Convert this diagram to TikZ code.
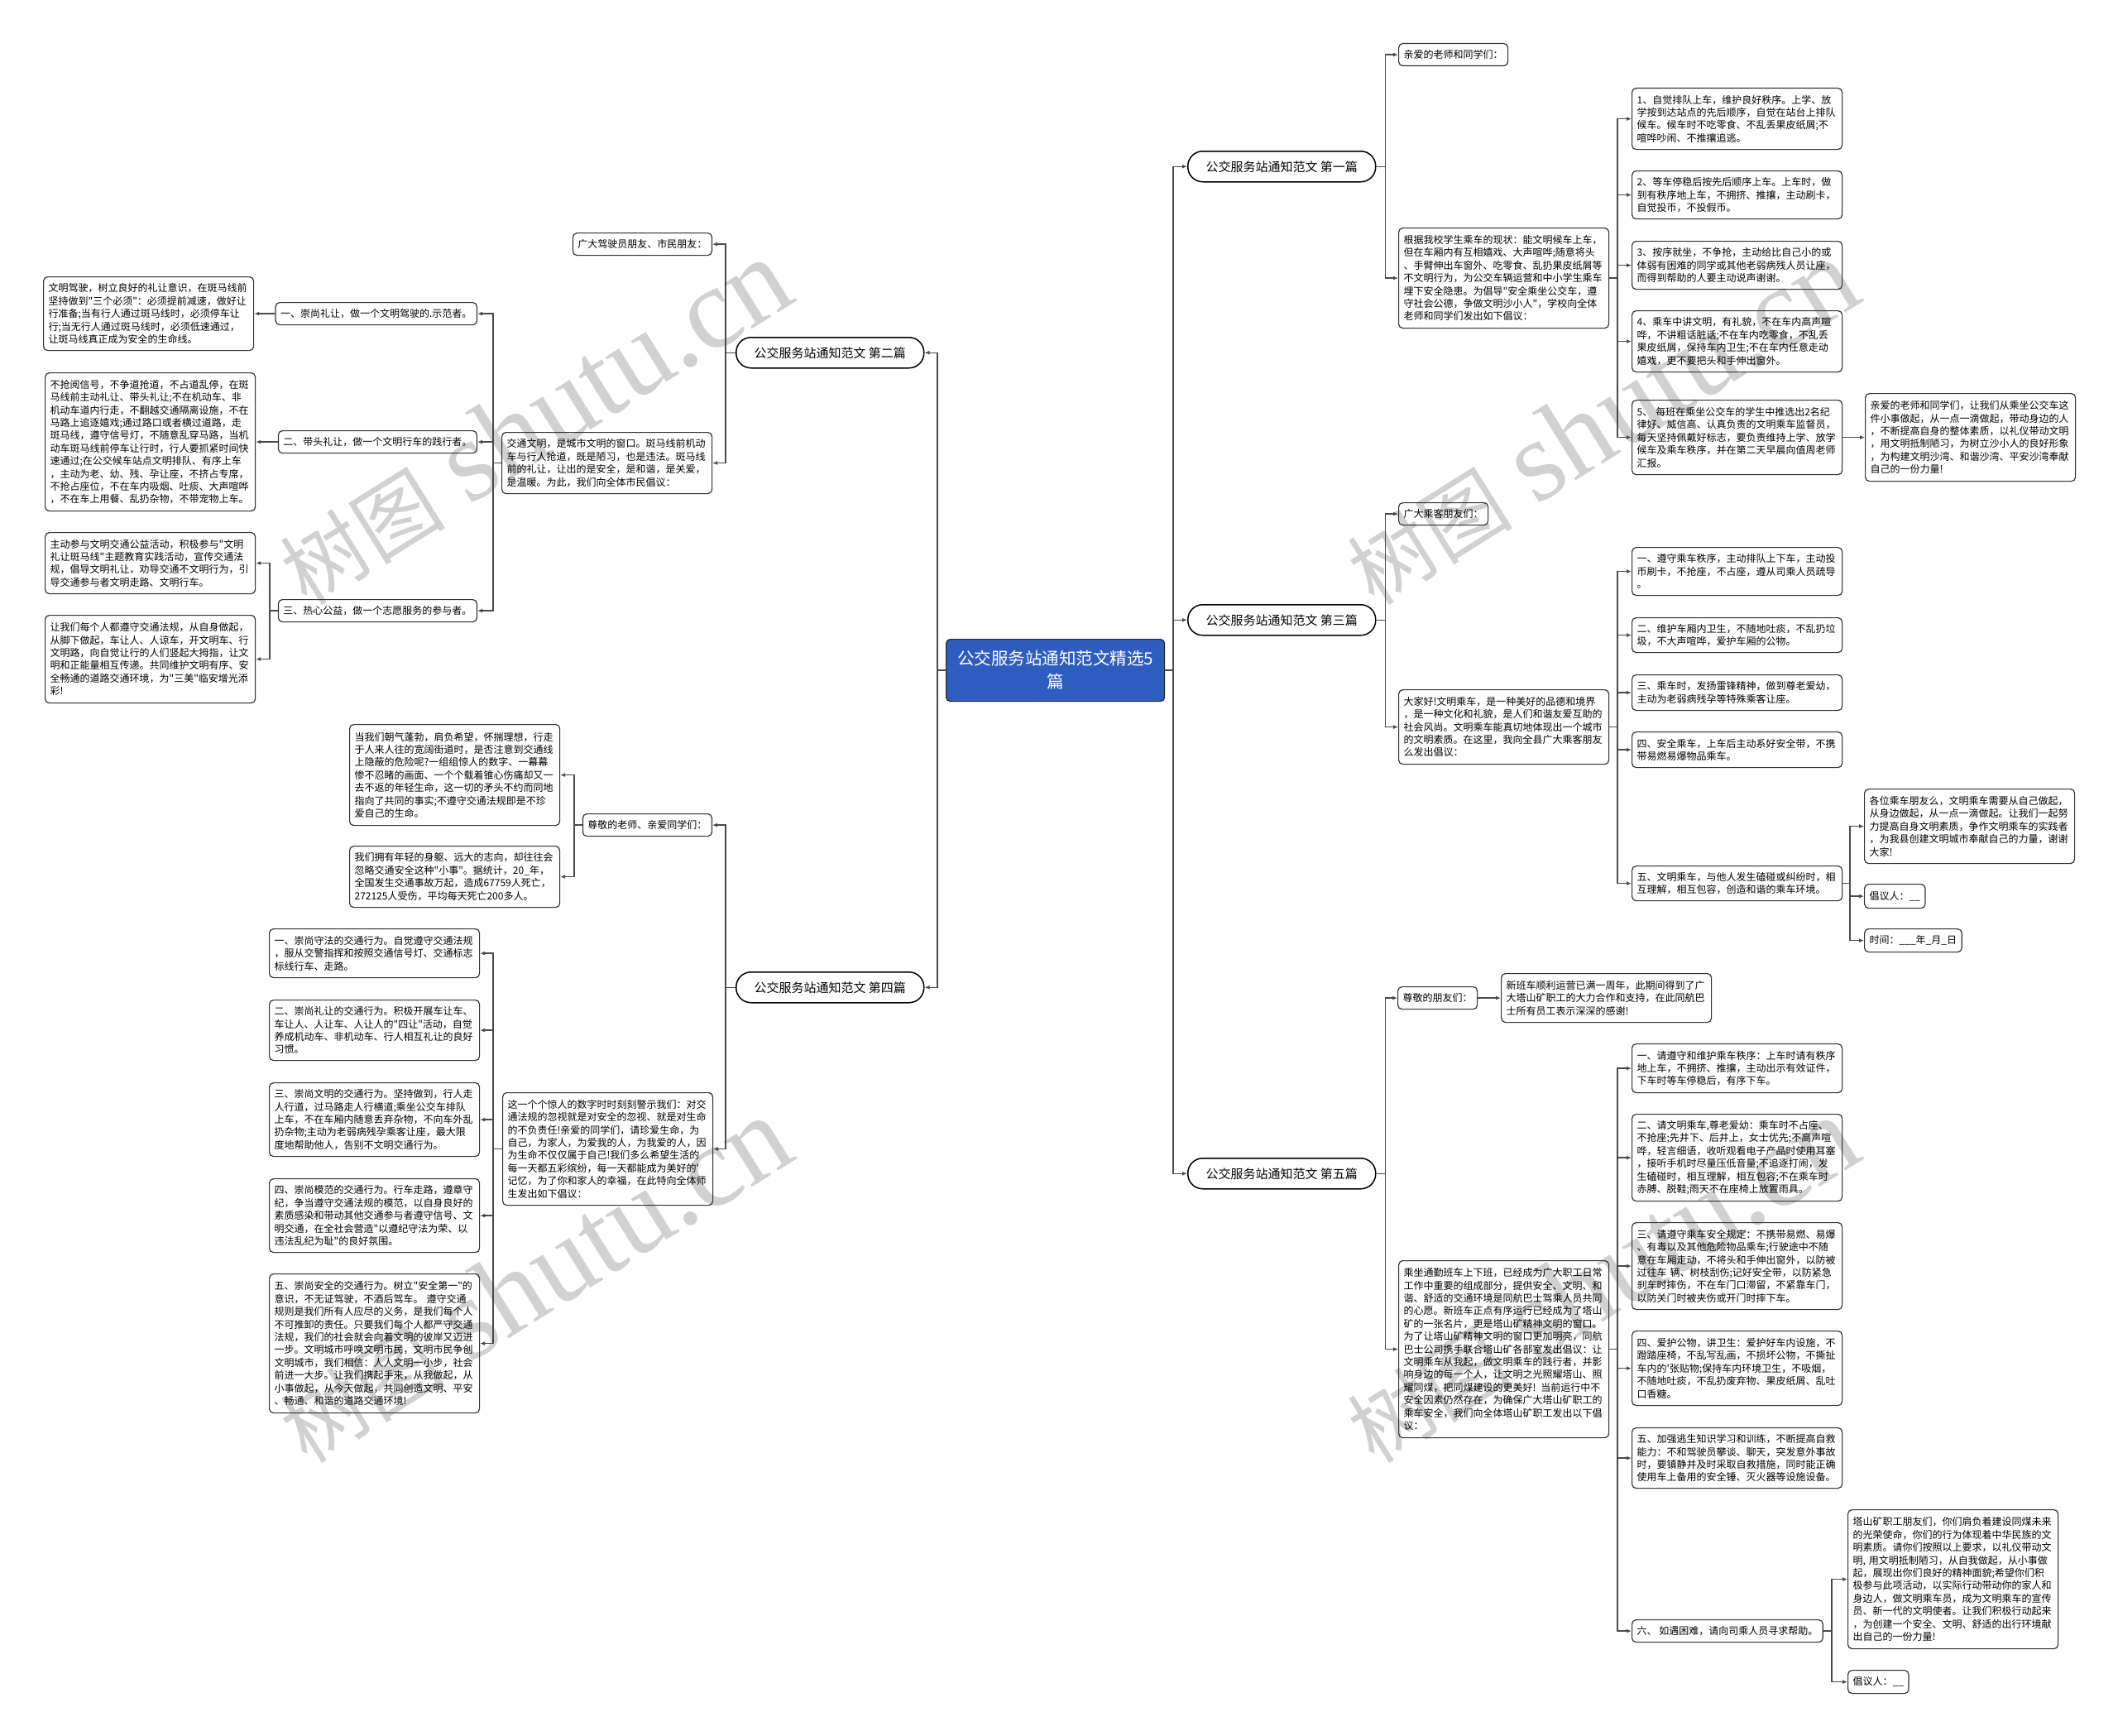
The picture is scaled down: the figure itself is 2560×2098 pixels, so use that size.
\documentclass[tikz,border=0pt]{standalone}
\usepackage{fontspec}
\setmainfont{Noto Sans CJK SC}[Ligatures=TeXOff]
\newfontfamily\wmlatin{Liberation Serif}
\usetikzlibrary{arrows.meta}
\definecolor{lc}{HTML}{4A4A4A}
\definecolor{bc}{HTML}{333333}
\definecolor{cblue}{HTML}{2D5DBF}
\newcommand\fs{\fontsize{12pt}{15.4pt}\selectfont}
\newcommand\wmtext{{\fontsize{100pt}{100pt}\selectfont 树图}\hspace{30pt}{\wmlatin\fontsize{140pt}{140pt}\selectfont shutu.cn}}
\tikzset{
  box/.style={draw=bc, line width=1.2pt, rounded corners=5pt, inner xsep=6pt, inner ysep=3pt, anchor=north west, font=\fs, align=left, text=black},
  tb/.style={box, text width=242pt},
  one/.style={box, minimum height=27pt},
  onel/.style={one, anchor=north east},
  br/.style={draw=black, line width=1.5pt, rounded corners=18pt, minimum width=227pt, minimum height=37pt, anchor=north west, font=\fontsize{15pt}{18pt}\selectfont, inner sep=0pt},
  arr/.style={draw=lc, line width=1.5pt, -{Latex[length=6pt,width=5pt]}},
  wm/.style={text=black!18, rotate=32, inner sep=0pt}
}
\begin{document}
\begin{tikzpicture}[x=1pt,y=-1pt]
\useasboundingbox (0,0) rectangle (2560,2098);
\fill[white] (0,0) rectangle (2560,2098);
% watermarks
\node[wm] (wm1) at (645,510) {\wmtext};
\node[wm] (wm2) at (1935,510) {\wmtext};
\node[wm] (wm3) at (645,1547) {\wmtext};
\node[wm] (wm4) at (1935,1547) {\wmtext};

% central node
\node[draw=black!85, fill=cblue, text=white, line width=1.2pt, rounded corners=5pt, minimum width=264pt, minimum height=75pt, anchor=north west, align=center, inner sep=0pt, font=\fontsize{20.5pt}{28pt}\selectfont] (C) at (1143,772) {公交服务站通知范文精选5\\篇};

% branches
\node[br] (B1) at (1435,182) {公交服务站通知范文 第一篇};
\node[br] (B3) at (1435,730) {公交服务站通知范文 第三篇};
\node[br] (B5) at (1435,1399) {公交服务站通知范文 第五篇};
\node[br] (B2) at (889,407) {公交服务站通知范文 第二篇};
\node[br] (B4) at (889,1174) {公交服务站通知范文 第四篇};

% ===== 第一篇 =====
\node[one] (N1a) at (1690,52) {亲爱的老师和同学们：};
\node[tb, minimum height=121pt] (N1p) at (1690,275) {根据我校学生乘车的现状：能文明候车上车，\\但在车厢内有互相嬉戏、大声喧哗;随意将头\\、手臂伸出车窗外、吃零食、乱扔果皮纸屑等\\不文明行为，为公交车辆运营和中小学生乘车\\埋下安全隐患。为倡导"安全乘坐公交车，遵\\守社会公德，争做文明沙小人"，学校向全体\\老师和同学们发出如下倡议：};
\node[tb, minimum height=74pt] (r11) at (1972,106) {1、自觉排队上车，维护良好秩序。上学、放\\学按到达站点的先后顺序，自觉在站台上排队\\候车。候车时不吃零食、不乱丢果皮纸屑;不\\喧哗吵闹、不推攘追逃。};
\node[tb, minimum height=58pt] (r12) at (1972,206) {2、等车停稳后按先后顺序上车。上车时，做\\到有秩序地上车，不拥挤、推攘，主动刷卡，\\自觉投币，不投假币。};
\node[tb, minimum height=58pt] (r13) at (1972,291) {3、按序就坐，不争抢，主动给比自己小的或\\体弱有困难的同学或其他老弱病残人员让座，\\而得到帮助的人要主动说声谢谢。};
\node[tb, minimum height=74pt] (r14) at (1972,375) {4、乘车中讲文明，有礼貌，不在车内高声喧\\哗，不讲粗话脏话;不在车内吃零食，不乱丢\\果皮纸屑，保持车内卫生;不在车内任意走动\\嬉戏，更不要把头和手伸出窗外。};
\node[tb, minimum height=90pt] (r15) at (1972,483) {5、 每班在乘坐公交车的学生中推选出2名纪\\律好、威信高、认真负责的文明乘车监督员，\\每天坚持佩戴好标志，要负责维持上学、放学\\候车及乘车秩序，并在第二天早晨向值周老师\\汇报。};
\node[tb, minimum height=106pt] (r15R) at (2254,475) {亲爱的老师和同学们，让我们从乘坐公交车这\\件小事做起，从一点一滴做起，带动身边的人\\，不断提高自身的整体素质，以礼仪带动文明\\，用文明抵制陋习，为树立沙小人的良好形象\\，为构建文明沙湾、和谐沙湾、平安沙湾奉献\\自己的一份力量!};

% ===== 第三篇 =====
\node[one] (N3a) at (1690,607) {广大乘客朋友们：};
\node[tb, minimum height=90pt] (N3p) at (1690,833) {大家好!文明乘车，是一种美好的品德和境界\\，是一种文化和礼貌，是人们和谐友爱互助的\\社会风尚。文明乘车能真切地体现出一个城市\\的文明素质。在这里，我向全县广大乘客朋友\\么发出倡议：};
\node[tb, minimum height=58pt] (r31) at (1972,661) {一、遵守乘车秩序，主动排队上下车，主动投\\币刷卡，不抢座，不占座，遵从司乘人员疏导\\。};
\node[tb, minimum height=42pt] (r32) at (1972,746) {二、维护车厢内卫生，不随地吐痰，不乱扔垃\\圾，不大声喧哗，爱护车厢的公物。};
\node[tb, minimum height=43pt] (r33) at (1972,815) {三、乘车时，发扬雷锋精神，做到尊老爱幼，\\主动为老弱病残孕等特殊乘客让座。};
\node[tb, minimum height=43pt] (r34) at (1972,884) {四、安全乘车，上车后主动系好安全带，不携\\带易燃易爆物品乘车。};
\node[tb, minimum height=42pt] (r35) at (1972,1046) {五、文明乘车，与他人发生磕碰或纠纷时，相\\互理解，相互包容，创造和谐的乘车环境。};
\node[tb, minimum height=90pt] (r35R) at (2253,953) {各位乘车朋友么，文明乘车需要从自己做起，\\从身边做起，从一点一滴做起。让我们一起努\\力提高自身文明素质，争作文明乘车的实践者\\，为我县创建文明城市奉献自己的力量，谢谢\\大家!};
\node[one, minimum height=29pt] (r35a) at (2253,1068) {倡议人：\_\_};
\node[one, minimum height=28pt] (r35b) at (2253,1122) {时间：\_\_\_年\_月\_日};

% ===== 第五篇 =====
\node[one] (N5a) at (1689,1192) {尊敬的朋友们：};
\node[tb, minimum height=59pt] (N5a1) at (1814,1176) {新班车顺利运营已满一周年，此期间得到了广\\大塔山矿职工的大力合作和支持，在此同航巴\\士所有员工表示深深的感谢!};
\node[tb, minimum height=214pt] (N5p) at (1690,1523) {乘坐通勤班车上下班，已经成为广大职工日常\\工作中重要的组成部分，提供安全、文明、和\\谐、舒适的交通环境是同航巴士驾乘人员共同\\的心愿。新班车正点有序运行已经成为了塔山\\矿的一张名片，更是塔山矿精神文明的窗口。\\为了让塔山矿精神文明的窗口更加明亮，同航\\巴士公司携手联合塔山矿各部室发出倡议：让\\文明乘车从我起，做文明乘车的践行者，并影\\响身边的每一个人，让文明之光照耀塔山、照\\耀同煤，把同煤建设的更美好! 当前运行中不\\安全因素仍然存在，为确保广大塔山矿职工的\\乘车安全，我们向全体塔山矿职工发出以下倡\\议：};
\node[tb, minimum height=59pt] (r51) at (1972,1261) {一、请遵守和维护乘车秩序：上车时请有秩序\\地上车，不拥挤、推攘，主动出示有效证件，\\下车时等车停稳后，有序下车。};
\node[tb, minimum height=105pt] (r52) at (1972,1346) {二、请文明乘车,尊老爱幼：乘车时不占座、\\不抢座;先井下、后井上，女士优先;不高声喧\\哗，轻言细语，收听观看电子产品时使用耳塞\\，接听手机时尽量压低音量;不追逐打闹，发\\生磕碰时，相互理解，相互包容;不在乘车时\\赤膊、脱鞋;雨天不在座椅上放置雨具。};
\node[tb, minimum height=105pt] (r53) at (1972,1477) {三、请遵守乘车安全规定：不携带易燃、易爆\\、有毒以及其他危险物品乘车;行驶途中不随\\意在车厢走动，不将头和手伸出窗外，以防被\\过往车 辆、树枝刮伤;记好安全带，以防紧急\\刹车时摔伤，不在车门口滞留，不紧靠车门，\\以防关门时被夹伤或开门时摔下车。};
\node[tb, minimum height=90pt] (r54) at (1972,1608) {四、爱护公物，讲卫生：爱护好车内设施，不\\蹬踏座椅，不乱写乱画，不损坏公物，不撕扯\\车内的'张贴物;保持车内环境卫生，不吸烟，\\不随地吐痰，不乱扔废弃物、果皮纸屑、乱吐\\口香糖。};
\node[tb, minimum height=73pt] (r55) at (1972,1725) {五、加强逃生知识学习和训练，不断提高自救\\能力：不和驾驶员攀谈、聊天，突发意外事故\\时，要镇静并及时采取自救措施，同时能正确\\使用车上备用的安全锤、灭火器等设施设备。};
\node[one] (r56) at (1972,1957) {六、 如遇困难，请向司乘人员寻求帮助。};
\node[tb, minimum height=168pt] (r56R) at (2233,1824) {塔山矿职工朋友们，你们肩负着建设同煤未来\\的光荣使命，你们的行为体现着中华民族的文\\明素质。请你们按照以上要求，以礼仪带动文\\明, 用文明抵制陋习，从自我做起，从小事做\\起，展现出你们良好的精神面貌;希望你们积\\极参与此项活动，以实际行动带动你的家人和\\身边人，做文明乘车员，成为文明乘车的宣传\\员、新一代的文明使者。让我们积极行动起来\\，为创建一个安全、文明、舒适的出行环境献\\出自己的一份力量!};
\node[one, minimum height=28pt] (r56a) at (2233,2018) {倡议人：\_\_};

% ===== 第二篇 =====
\node[onel] (N2a) at (861,281) {广大驾驶员朋友、市民朋友：};
\node[tb, minimum height=74pt] (N2p) at (606,522) {交通文明，是城市文明的窗口。斑马线前机动\\车与行人抢道，既是陋习，也是违法。斑马线\\前的礼让，让出的是安全，是和谐，是关爱，\\是温暖。为此，我们向全体市民倡议：};
\node[onel] (I1) at (577,365) {一、崇尚礼让，做一个文明驾驶的.示范者。};
\node[tb, minimum height=89pt] (I1c) at (52,334) {文明驾驶，树立良好的礼让意识，在斑马线前\\坚持做到"三个必须"：必须提前减速，做好让\\行准备;当有行人通过斑马线时，必须停车让\\行;当无行人通过斑马线时，必须低速通过，\\让斑马线真正成为安全的生命线。};
\node[onel] (I2) at (577,520) {二、带头礼让，做一个文明行车的践行者。};
\node[tb, minimum height=167pt] (I2c) at (54,450) {不抢阅信号，不争道抢道，不占道乱停，在斑\\马线前主动礼让、带头礼让;不在机动车、非\\机动车道内行走，不翻越交通隔离设施，不在\\马路上追逐嬉戏;通过路口或者横过道路，走\\斑马线，遵守信号灯，不随意乱穿马路，当机\\动车斑马线前停车让行时，行人要抓紧时间快\\速通过;在公交候车站点文明排队、有序上车\\，主动为老、幼、残、孕让座，不挤占专席，\\不抢占座位，不在车内吸烟、吐痰、大声喧哗\\，不在车上用餐、乱扔杂物，不带宠物上车。};
\node[onel] (I3) at (577,724) {三、热心公益，做一个志愿服务的参与者。};
\node[tb, minimum height=74pt] (I3c1) at (54,643) {主动参与文明交通公益活动，积极参与"文明\\礼让斑马线"主题教育实践活动，宣传交通法\\规，倡导文明礼让，劝导交通不文明行为，引\\导交通参与者文明走路、文明行车。};
\node[tb, minimum height=106pt] (I3c2) at (54,743) {让我们每个人都遵守交通法规，从自身做起，\\从脚下做起，车让人、人谅车，开文明车、行\\文明路，向自觉让行的人们竖起大拇指，让文\\明和正能量相互传递。共同维护文明有序、安\\全畅通的道路交通环境，为"三美"临安增光添\\彩!};

% ===== 第四篇 =====
\node[onel] (N4a) at (861,983) {尊敬的老师、亲爱同学们：};
\node[tb, minimum height=122pt] (N4a1) at (422,875) {当我们朝气蓬勃，肩负希望，怀揣理想，行走\\于人来人往的宽阔街道时，是否注意到交通线\\上隐蔽的危险呢?一组组惊人的数字、一幕幕\\惨不忍睹的画面、一个个载着锥心伤痛却又一\\去不返的年轻生命，这一切的矛头不约而同地\\指向了共同的事实;不遵守交通法规即是不珍\\爱自己的生命。};
\node[tb, minimum height=74pt] (N4a2) at (422,1022) {我们拥有年轻的身躯、远大的志向，却往往会\\忽略交通安全这种"小事"。据统计，20\_年，\\全国发生交通事故万起，造成67759人死亡，\\272125人受伤，平均每天死亡200多人。};
\node[tb, minimum height=136pt] (N4p) at (607,1320) {这一个个惊人的数字时时刻刻警示我们：对交\\通法规的忽视就是对安全的忽视、就是对生命\\的不负责任!亲爱的同学们，请珍爱生命，为\\自己，为家人，为爱我的人，为我爱的人，因\\为生命不仅仅属于自己!我们多么希望生活的\\每一天都五彩缤纷，每一天都能成为美好的'\\记忆，为了你和家人的幸福，在此特向全体师\\生发出如下倡议：};
\node[tb, minimum height=59pt] (L41) at (325,1122) {一、崇尚守法的交通行为。自觉遵守交通法规\\，服从交警指挥和按照交通信号灯、交通标志\\标线行车、走路。};
\node[tb, minimum height=73pt] (L42) at (325,1208) {二、崇尚礼让的交通行为。积极开展车让车、\\车让人、人让车、人让人的"四让"活动，自觉\\养成机动车、非机动车、行人相互礼让的良好\\习惯。};
\node[tb, minimum height=89pt] (L43) at (325,1308) {三、崇尚文明的交通行为。坚持做到，行人走\\人行道，过马路走人行横道;乘坐公交车排队\\上车，不在车厢内随意丢弃杂物，不向车外乱\\扔杂物;主动为老弱病残孕乘客让座，最大限\\度地帮助他人，告别不文明交通行为。};
\node[tb, minimum height=89pt] (L44) at (325,1424) {四、崇尚模范的交通行为。行车走路，遵章守\\纪，争当遵守交通法规的模范，以自身良好的\\素质感染和带动其他交通参与者遵守信号、文\\明交通，在全社会营造"以遵纪守法为荣、以\\违法乱纪为耻"的良好氛围。};
\node[tb, minimum height=168pt] (L45) at (325,1539) {五、崇尚安全的交通行为。树立"安全第一"的\\意识，不无证驾驶，不酒后驾车。 遵守交通\\规则是我们所有人应尽的义务，是我们每个人\\不可推卸的责任。只要我们每个人都严守交通\\法规，我们的社会就会向着文明的彼岸又迈进\\一步。文明城市呼唤文明市民，文明市民争创\\文明城市，我们相信：人人文明一小步，社会\\前进一大步。让我们携起手来，从我做起，从\\小事做起，从今天做起，共同创造文明、平安\\、畅通、和谐的道路交通环境!};

% ===== connectors =====
\foreach \b in {B1,B3,B5} \draw[arr] (C.east) -- ++(10,0) |- (\b.west);
\foreach \b in {B2,B4} \draw[arr] (C.west) -- ++(-10,0) |- (\b.east);

\foreach \c in {N1a,N1p} \draw[arr] (B1.east) -- ++(11,0) |- (\c.west);
\foreach \c in {r11,r12,r13,r14,r15} \draw[arr] (N1p.east) -- ++(10,0) |- (\c.west);
\draw[arr] (r15.east) -- ++(10,0) |- (r15R.west);

\foreach \c in {N3a,N3p} \draw[arr] (B3.east) -- ++(11,0) |- (\c.west);
\foreach \c in {r31,r32,r33,r34,r35} \draw[arr] (N3p.east) -- ++(10,0) |- (\c.west);
\foreach \c in {r35R,r35a,r35b} \draw[arr] (r35.east) -- ++(9,0) |- (\c.west);

\foreach \c in {N5a,N5p} \draw[arr] (B5.east) -- ++(11,0) |- (\c.west);
\draw[arr] (N5a.east) -- ++(10,0) |- (N5a1.west);
\foreach \c in {r51,r52,r53,r54,r55,r56} \draw[arr] (N5p.east) -- ++(10,0) |- (\c.west);
\foreach \c in {r56R,r56a} \draw[arr] (r56.east) -- ++(10,0) |- (\c.west);

\foreach \c in {N2a,N2p} \draw[arr] (B2.west) -- ++(-12,0) |- (\c.east);
\foreach \c in {I1,I2,I3} \draw[arr] (N2p.west) -- ++(-10,0) |- (\c.east);
\draw[arr] (I1.west) -- ++(-10,0) |- (I1c.east);
\draw[arr] (I2.west) -- ++(-10,0) |- (I2c.east);
\foreach \c in {I3c1,I3c2} \draw[arr] (I3.west) -- ++(-10,0) |- (\c.east);

\foreach \c in {N4a,N4p} \draw[arr] (B4.west) -- ++(-12,0) |- (\c.east);
\foreach \c in {N4a1,N4a2} \draw[arr] (N4a.west) -- ++(-10,0) |- (\c.east);
\foreach \c in {L41,L42,L43,L44,L45} \draw[arr] (N4p.west) -- ++(-11,0) |- (\c.east);
\end{tikzpicture}
\end{document}
